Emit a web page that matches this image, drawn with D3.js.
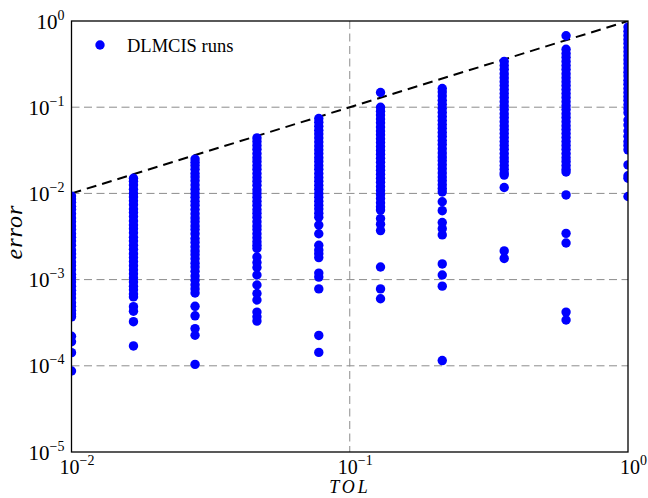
<!DOCTYPE html>
<html><head><meta charset="utf-8">
<script src="https://cdn.jsdelivr.net/npm/d3@7"></script>
<style>body{margin:0;background:#fff}</style>
</head><body>
<svg id="chart" width="648" height="498"></svg>
<script>
// ---- data ----
const tolValues = [0.01, 0.0167, 0.0278, 0.0464, 0.0774, 0.129, 0.215, 0.359, 0.599, 1.0];

const errorsTol1 = [9.3e-3, 8.6e-3, 7.9e-3, 7.1e-3, 6.5e-3, 5.8e-3, 5.2e-3, 4.7e-3, 4.2e-3, 3.8e-3, 3.4e-3, 3.1e-3, 2.8e-3, 2.5e-3, 2.2e-3, 2.0e-3, 1.8e-3, 1.6e-3, 1.45e-3, 1.3e-3, 1.15e-3, 1.05e-3, 9.4e-4, 8.4e-4, 7.5e-4, 6.8e-4, 6.1e-4, 5.4e-4, 4.9e-4, 4.4e-4, 4.0e-4, 3.7e-4,
  2.2e-4, 1.9e-4, 1.42e-4, 8.7e-5];
const errorsTol2 = [1.5e-2, 1.38e-2, 1.25e-2, 1.12e-2, 1.0e-2, 9.1e-3, 8.2e-3, 7.4e-3, 6.6e-3, 6.0e-3, 5.4e-3, 4.8e-3, 4.3e-3, 3.9e-3, 3.5e-3, 3.1e-3, 2.8e-3, 2.5e-3, 2.25e-3, 2.0e-3, 1.8e-3, 1.62e-3, 1.45e-3, 1.3e-3, 1.17e-3, 1.05e-3, 9.4e-4, 8.4e-4, 7.6e-4, 6.8e-4, 6.3e-4,
  4.85e-4, 4.3e-4, 3.25e-4, 1.7e-4];
const errorsTol3 = [2.5e-2, 2.3e-2, 2.1e-2, 1.9e-2, 1.7e-2, 1.55e-2, 1.4e-2, 1.25e-2, 1.12e-2, 1.0e-2, 9.0e-3, 8.1e-3, 7.3e-3, 6.5e-3, 5.8e-3, 5.2e-3, 4.7e-3, 4.2e-3, 3.8e-3, 3.4e-3, 3.0e-3, 2.7e-3, 2.4e-3, 2.15e-3, 1.95e-3, 1.75e-3, 1.55e-3, 1.4e-3, 1.25e-3, 1.1e-3, 9.8e-4, 8.7e-4, 7.8e-4, 7.0e-4,
  4.9e-4, 3.8e-4, 2.7e-4, 2.26e-4, 1.04e-4];
const errorsTol4 = [4.4e-2, 4.0e-2, 3.6e-2, 3.25e-2, 2.9e-2, 2.6e-2, 2.35e-2, 2.1e-2, 1.9e-2, 1.7e-2, 1.53e-2, 1.38e-2, 1.24e-2, 1.1e-2, 1.0e-2, 9.0e-3, 8.1e-3, 7.3e-3, 6.5e-3, 5.9e-3, 5.3e-3, 4.7e-3, 4.2e-3, 3.8e-3, 3.4e-3, 3.05e-3, 2.75e-3, 2.5e-3, 2.3e-3,
  1.83e-3, 1.58e-3, 1.38e-3, 1.13e-3, 8.65e-4, 6.9e-4, 5.8e-4, 4.2e-4, 3.7e-4, 3.3e-4];
const errorsTol5 = [7.4e-2, 6.7e-2, 6.0e-2, 5.4e-2, 4.9e-2, 4.4e-2, 3.95e-2, 3.55e-2, 3.2e-2, 2.9e-2, 2.6e-2, 2.35e-2, 2.1e-2, 1.9e-2, 1.7e-2, 1.53e-2, 1.38e-2, 1.24e-2, 1.12e-2, 1.0e-2, 9.0e-3, 8.1e-3, 7.3e-3, 6.6e-3, 5.9e-3, 5.3e-3,
  4.3e-3, 3.4e-3, 2.5e-3, 2.2e-3, 2.0e-3, 1.8e-3, 1.19e-3, 1.07e-3, 7.8e-4, 2.25e-4, 1.43e-4];
const errorsTol6 = [1.48e-1,
  1.0e-1, 9.0e-2, 8.1e-2, 7.3e-2, 6.6e-2, 5.9e-2, 5.3e-2, 4.8e-2, 4.3e-2, 3.9e-2, 3.5e-2, 3.15e-2, 2.85e-2, 2.55e-2, 2.3e-2, 2.05e-2, 1.85e-2, 1.67e-2, 1.5e-2, 1.35e-2, 1.2e-2, 1.08e-2, 9.7e-3, 8.7e-3, 7.8e-3, 7.0e-3, 6.4e-3,
  5.1e-3, 4.4e-3, 3.7e-3, 1.4e-3, 7.8e-4, 6.0e-4];
const errorsTol7 = [1.65e-1, 1.5e-1, 1.35e-1, 1.2e-1, 1.08e-1, 9.7e-2, 8.7e-2, 7.8e-2, 7.0e-2, 6.3e-2, 5.7e-2, 5.1e-2, 4.6e-2, 4.1e-2, 3.7e-2, 3.3e-2, 2.95e-2, 2.65e-2, 2.4e-2, 2.15e-2, 1.93e-2, 1.73e-2, 1.55e-2, 1.4e-2, 1.26e-2, 1.14e-2, 1.04e-2,
  8.0e-3, 6.3e-3, 4.6e-3, 3.9e-3, 3.3e-3, 1.52e-3, 1.13e-3, 8.4e-4, 1.15e-4];
const errorsTol8 = [3.4e-1, 3.05e-1, 2.75e-1, 2.45e-1, 2.2e-1, 1.98e-1, 1.78e-1, 1.6e-1, 1.44e-1, 1.3e-1, 1.16e-1, 1.04e-1, 9.4e-2, 8.4e-2, 7.6e-2, 6.8e-2, 6.1e-2, 5.5e-2, 4.95e-2, 4.45e-2, 4.0e-2, 3.6e-2, 3.25e-2, 2.9e-2, 2.6e-2, 2.35e-2, 2.1e-2, 1.9e-2, 1.72e-2, 1.63e-2,
  1.17e-2, 2.15e-3, 1.76e-3];
const errorsTol9 = [6.75e-1,
  4.7e-1, 4.2e-1, 3.8e-1, 3.4e-1, 3.05e-1, 2.75e-1, 2.45e-1, 2.2e-1, 1.98e-1, 1.78e-1, 1.6e-1, 1.44e-1, 1.3e-1, 1.16e-1, 1.04e-1, 9.4e-2, 8.4e-2, 7.6e-2, 6.8e-2, 6.1e-2, 5.5e-2, 4.95e-2, 4.45e-2, 4.0e-2, 3.6e-2, 3.25e-2, 2.9e-2, 2.6e-2, 2.35e-2, 2.1e-2, 1.9e-2, 1.77e-2,
  9.6e-3, 3.44e-3, 2.66e-3, 4.2e-4, 3.4e-4];
const errorsTol10 = [8.5e-1, 7.6e-1, 6.8e-1, 6.1e-1, 5.5e-1, 4.9e-1, 4.4e-1, 3.95e-1, 3.55e-1, 3.2e-1, 2.85e-1, 2.55e-1, 2.3e-1, 2.05e-1, 1.85e-1, 1.65e-1, 1.48e-1, 1.33e-1, 1.2e-1, 1.07e-1, 9.6e-2, 8.6e-2,
  7.1e-2, 6.2e-2, 5.3e-2, 4.6e-2, 4.0e-2, 3.6e-2, 3.2e-2, 2.14e-2, 1.6e-2, 1.5e-2, 9.2e-3];

const xTickValues = [1e-2, 1e-1, 1e0];
const yTickValues = [1e-5, 1e-4, 1e-3, 1e-2, 1e-1, 1e0];
const referenceLine = [[0.01, 0.01], [1, 1]];   // error = TOL
const legendLabel = "DLMCIS runs";
const xTitle = "TOL";
const yTitle = "error";

// ---- build ----
const runs = [errorsTol1, errorsTol2, errorsTol3, errorsTol4, errorsTol5,
              errorsTol6, errorsTol7, errorsTol8, errorsTol9, errorsTol10];
const points = [];
runs.forEach((errs, i) => errs.forEach(e => points.push({tol: tolValues[i], err: e})));

const L = 71.5, R = 628, T = 21, B = 452;
const svg = d3.select("#chart");
const x = d3.scaleLog().domain([1e-2, 1]).range([L, R]);
const y = d3.scaleLog().domain([1e-5, 1]).range([B, T]);

const serif = "'Liberation Serif', 'DejaVu Serif', serif";

svg.append("defs").append("clipPath").attr("id", "clip")
  .append("rect").attr("x", L).attr("y", T).attr("width", R - L).attr("height", B - T);

// grid
const grid = svg.append("g").attr("stroke", "#8c8c8c").attr("stroke-width", 1)
  .attr("stroke-dasharray", "8,4.5").attr("fill", "none");
grid.selectAll(".gy").data(yTickValues.filter(v => v > 1e-5 && v < 1)).enter().append("line")
  .attr("x1", L).attr("x2", R).attr("y1", d => y(d)).attr("y2", d => y(d));
grid.selectAll(".gx").data(xTickValues.filter(v => v > 1e-2 && v < 1)).enter().append("line")
  .attr("y1", T).attr("y2", B).attr("x1", d => x(d)).attr("x2", d => x(d));

// reference line
svg.append("path")
  .attr("d", d3.line().x(d => x(d[0])).y(d => y(d[1]))(referenceLine))
  .attr("stroke", "#000").attr("stroke-width", 2).attr("stroke-dasharray", "10,6")
  .attr("fill", "none").attr("clip-path", "url(#clip)");

// points
svg.append("g").attr("clip-path", "url(#clip)")
  .selectAll("circle").data(points).enter().append("circle")
  .attr("cx", d => x(d.tol)).attr("cy", d => y(d.err)).attr("r", 4.7)
  .attr("fill", "#0000ff");

// frame
svg.append("rect").attr("x", L).attr("y", T).attr("width", R - L).attr("height", B - T)
  .attr("fill", "none").attr("stroke", "#000").attr("stroke-width", 1.3);

function sup(sel) {
  sel.each(function(d) {
    const t = d3.select(this);
    const e = Math.round(Math.log10(d));
    t.text("");
    t.append("tspan").text("10");
    t.append("tspan").attr("dy", -9).attr("font-size", 14).text(e < 0 ? "\u2212" + (-e) : String(e));
  });
}

// axes
const xAxisG = svg.append("g").attr("transform", `translate(0,${B})`)
  .call(d3.axisBottom(x).tickValues(xTickValues).tickSize(0).tickPadding(0).tickFormat(() => ""));
xAxisG.select(".domain").remove();
xAxisG.selectAll(".tick text")
  .attr("font-family", serif).attr("font-size", 20).attr("fill", "#000")
  .attr("text-anchor", "middle").attr("x", 5).attr("y", 21.5).attr("dy", null)
  .call(sup);

const yAxisG = svg.append("g").attr("transform", `translate(${L},0)`)
  .call(d3.axisLeft(y).tickValues(yTickValues).tickSize(0).tickPadding(0).tickFormat(() => ""));
yAxisG.select(".domain").remove();
yAxisG.selectAll(".tick text")
  .attr("font-family", serif).attr("font-size", 21).attr("fill", "#000")
  .attr("text-anchor", "end").attr("x", -7).attr("dy", 7)
  .call(sup);

// axis titles
svg.append("text").attr("x", 350).attr("y", 493).attr("text-anchor", "middle")
  .attr("font-family", serif).attr("font-style", "italic").attr("font-size", 18)
  .attr("letter-spacing", 3).text(xTitle);
svg.append("text").attr("transform", "translate(22,232) rotate(-90)").attr("text-anchor", "middle")
  .attr("font-family", serif).attr("font-style", "italic").attr("font-size", 24)
  .attr("letter-spacing", 1).text(yTitle);

// legend
svg.append("circle").attr("cx", 100).attr("cy", 45).attr("r", 4.7).attr("fill", "#0000ff");
svg.append("text").attr("x", 127).attr("y", 51.5).attr("font-family", serif)
  .attr("font-size", 18.5).text(legendLabel);
</script>
</body></html>
